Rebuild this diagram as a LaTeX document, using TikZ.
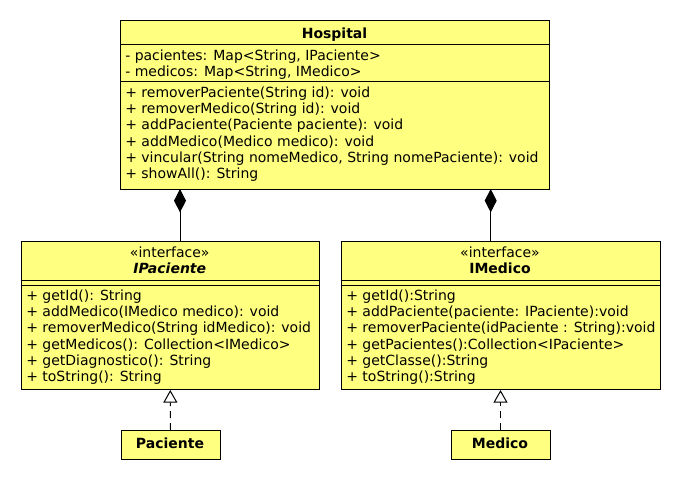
\documentclass[tikz,border=0pt]{standalone}
\usepackage{fontspec}
\setmainfont{DejaVu Sans}
\usetikzlibrary{arrows.meta}
\definecolor{umlyellow}{HTML}{FFFF80}
\tikzset{
  box/.style={draw=black, fill=umlyellow, line width=0.75pt, rectangle, inner sep=0pt, anchor=north west},
  txt/.style={inner sep=0pt, anchor=base west, font=\fontsize{10.5}{12}\selectfont},
  ctxt/.style={inner sep=0pt, anchor=base, font=\fontsize{10.5}{12}\selectfont},
  sep/.style={draw=black, line width=0.75pt},
  comp/.style={draw=black, line width=0.75pt, -{Diamond[length=17.5pt, width=9pt]}},
  real/.style={draw=black, line width=0.75pt, dash pattern=on 5.25pt off 3.75pt, -{Triangle[open, length=9.4pt, width=10.5pt]}},
}
\begin{document}
\begin{tikzpicture}[x=0.75pt, y=-0.75pt]
\useasboundingbox (0,0) rectangle (680,480);
% Hospital
\node[box, minimum width=321.75pt, minimum height=126.75pt] (hosp) at (120,20) {};
\draw[sep] (120,44.5) -- (549,44.5);
\draw[sep] (120,81) -- (549,81);
\node[ctxt, font=\fontsize{10.5}{12}\selectfont\bfseries] (htitle) at (334.5,38.3) {Hospital};
\node[txt] (ha1) at (125,60.7) {- pacientes: Map<String, IPaciente>};
\node[txt] (ha2) at (125,76.8) {- medicos: Map<String, IMedico>};
\foreach \t [count=\i] in {{+ removerPaciente(String id): void},{+ removerMedico(String id): void},{+ addPaciente(Paciente paciente): void},{+ addMedico(Medico medico): void},{+ vincular(String nomeMedico, String nomePaciente): void},{+ showAll(): String}}
  \node[txt] (hm\i) at (125,{97.3+16.3*(\i-1)}) {\t};
% IPaciente
\node[box, minimum width=223.9pt, minimum height=111.4pt] (ipac) at (20.5,240.5) {};
\draw[sep] (20.5,280.3) -- (319,280.3);
\draw[sep] (20.5,285.7) -- (319,285.7);
\node[ctxt] (ipst) at (169.75,257.7) {«interface»};
\node[ctxt, font=\fontsize{10.5}{12}\selectfont\bfseries\itshape] (ipname) at (169.75,273.3) {IPaciente};
\foreach \t [count=\i] in {{+ getId(): String},{+ addMedico(IMedico medico): void},{+ removerMedico(String idMedico): void},{+ getMedicos(): Collection<IMedico>},{+ getDiagnostico(): String},{+ toString(): String}}
  \node[txt] (ipm\i) at (26,{300.7+16.1*(\i-1)}) {\t};
% IMedico
\node[box, minimum width=239.25pt, minimum height=111.4pt] (imed) at (340.5,240.5) {};
\draw[sep] (340.5,280.3) -- (659.5,280.3);
\draw[sep] (340.5,285.7) -- (659.5,285.7);
\node[ctxt] (imst) at (500,257.7) {«interface»};
\node[ctxt, font=\fontsize{10.5}{12}\selectfont\bfseries] (imname) at (500,273.3) {IMedico};
\foreach \t [count=\i] in {{+ getId():String},{+ addPaciente(paciente: IPaciente):void},{+ removerPaciente(idPaciente : String):void},{+ getPacientes():Collection<IPaciente>},{+ getClasse():String},{+ toString():String}}
  \node[txt] (imm\i) at (346,{300.7+16.1*(\i-1)}) {\t};
% Paciente / Medico
\node[box, minimum width=74.25pt, minimum height=21.4pt] (pac) at (120.5,430) {};
\node[ctxt, font=\fontsize{10.5}{12}\selectfont\bfseries] (pacname) at (170,448.3) {Paciente};
\node[box, minimum width=74.25pt, minimum height=21.4pt] (med) at (450.5,430) {};
\node[ctxt, font=\fontsize{10.5}{12}\selectfont\bfseries] (medname) at (500,448.3) {Medico};
% connectors
\coordinate (dA) at (180,189);
\coordinate (dB) at (490.7,189);
\draw[comp] (ipac.north -| dA) -- (dA);
\draw[comp] (imed.north -| dB) -- (dB);
\draw[real] (pac.north) -- (ipac.south);
\draw[real] (med.north) -- (imed.south);
\end{tikzpicture}
\end{document}
